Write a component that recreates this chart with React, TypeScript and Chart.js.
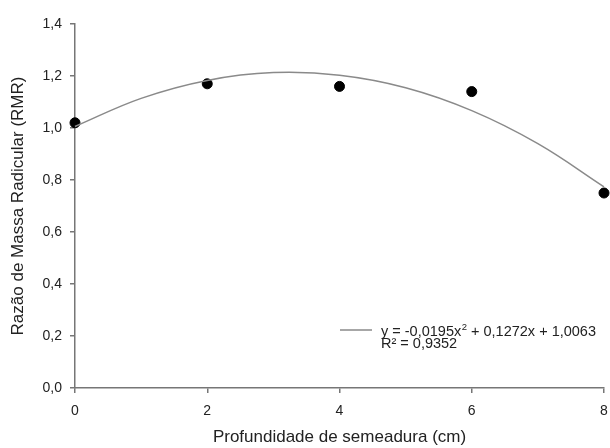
import React, { useEffect, useRef } from "react";
import { Chart, registerables } from "chart.js";

Chart.register(...registerables);

const depthCm = [0, 2, 4, 6, 8];
const rmrObserved = [1.02, 1.17, 1.16, 1.14, 0.75];

const curveX = [0, 1, 2, 3, 4, 5, 6, 7, 8];
const curveY = [1.006, 1.114, 1.183, 1.213, 1.203, 1.155, 1.067, 0.94, 0.774];

const xTicks = [0, 2, 4, 6, 8];
const yTicks = [0, 0.2, 0.4, 0.6, 0.8, 1.0, 1.2, 1.4];

const equationParts = ["y = -0,0195x", "2", " + 0,1272x + 1,0063"];
const r2Text = "R² = 0,9352";
const xTitle = "Profundidade de semeadura (cm)";
const yTitle = "Razão de Massa Radicular (RMR)";

const FONT = "'Liberation Sans', Arial, sans-serif";
const AXIS_COLOR = "#767676";
const TEXT_COLOR = "#222222";

const legendPlugin = {
  id: "eqLegend",
  afterDraw(chart: any) {
    const { ctx, chartArea } = chart;
    const x0 = chartArea.right - 264;
    const yLine = chartArea.top + 306;
    ctx.save();
    ctx.strokeStyle = "#8a8a8a";
    ctx.lineWidth = 1.5;
    ctx.beginPath();
    ctx.moveTo(x0, yLine);
    ctx.lineTo(x0 + 32, yLine);
    ctx.stroke();
    ctx.fillStyle = TEXT_COLOR;
    ctx.textBaseline = "alphabetic";
    ctx.textAlign = "left";
    let tx = x0 + 41;
    const base1 = yLine + 6;
    ctx.font = `14.5px ${FONT}`;
    ctx.fillText(equationParts[0], tx, base1);
    tx += ctx.measureText(equationParts[0]).width;
    ctx.font = `9.5px ${FONT}`;
    ctx.fillText(equationParts[1], tx + 0.5, base1 - 6);
    tx += ctx.measureText(equationParts[1]).width + 0.5;
    ctx.font = `14.5px ${FONT}`;
    ctx.fillText(equationParts[2], tx, base1);
    ctx.fillText(r2Text, x0 + 41, base1 + 12);
    ctx.restore();
  },
};

export default function App() {
  const ref = useRef<HTMLCanvasElement>(null);

  useEffect(() => {
    if (!ref.current) return;
    const chart = new Chart(ref.current, {
      type: "scatter",
      data: {
        datasets: [
          {
            label: "Ajuste",
            data: curveX.map((x, i) => ({ x, y: curveY[i] })),
            showLine: true,
            borderColor: "#8a8a8a",
            borderWidth: 1.5,
            pointRadius: 0,
            tension: 0.4,
            clip: false as any,
          },
          {
            label: "RMR",
            data: depthCm.map((x, i) => ({ x, y: rmrObserved[i] })),
            showLine: false,
            pointRadius: 5,
            pointBackgroundColor: "#000",
            pointBorderColor: "#000",
            clip: false as any,
          },
        ],
      },
      options: {
        animation: false,
        responsive: false,
        events: [],
        layout: { padding: { top: 24, right: 5, left: 0, bottom: 0 } },
        plugins: {
          legend: { display: false },
          tooltip: { enabled: false },
        },
        scales: {
          x: {
            type: "linear",
            min: 0,
            max: 8,
            afterBuildTicks: (s: any) => {
              s.ticks = xTicks.map((v) => ({ value: v }));
            },
            afterFit: (s: any) => {
              s.height = 60;
              s.paddingLeft = 0;
              s.paddingRight = 0;
            },
            grid: {
              drawOnChartArea: false,
              drawTicks: true,
              tickLength: 5,
              color: AXIS_COLOR,
              lineWidth: 1.5,
            },
            border: { display: true, color: AXIS_COLOR, width: 1.5 },
            ticks: {
              padding: 9.5,
              color: TEXT_COLOR,
              font: { family: FONT, size: 14 },
              maxRotation: 0,
            },
            title: {
              display: true,
              text: xTitle,
              color: TEXT_COLOR,
              font: { family: FONT, size: 17 },
              padding: { top: 0, bottom: 0 },
            },
          },
          y: {
            type: "linear",
            min: 0,
            max: 1.4,
            afterBuildTicks: (s: any) => {
              s.ticks = yTicks.map((v) => ({ value: v }));
            },
            afterFit: (s: any) => {
              s.width = 75;
              s.paddingTop = 0;
              s.paddingBottom = 0;
            },
            grid: {
              drawOnChartArea: false,
              drawTicks: true,
              tickLength: 5,
              color: AXIS_COLOR,
              lineWidth: 1.5,
            },
            border: { display: true, color: AXIS_COLOR, width: 1.5 },
            ticks: {
              padding: 8,
              color: TEXT_COLOR,
              font: { family: FONT, size: 14 },
              callback: (v: any) => Number(v).toFixed(1).replace(".", ","),
            },
            title: {
              display: true,
              text: yTitle,
              color: TEXT_COLOR,
              font: { family: FONT, size: 17 },
              padding: { top: 8, bottom: 0 },
            },
          },
        },
      },
      plugins: [legendPlugin],
    });
    return () => chart.destroy();
  }, []);

  return (
    <div style={{ position: "fixed", left: 0, top: 0, width: 610, height: 448, background: "#fff" }}>
      <canvas ref={ref} width={610} height={448} style={{ width: 610, height: 448, display: "block" }} />
    </div>
  );
}
